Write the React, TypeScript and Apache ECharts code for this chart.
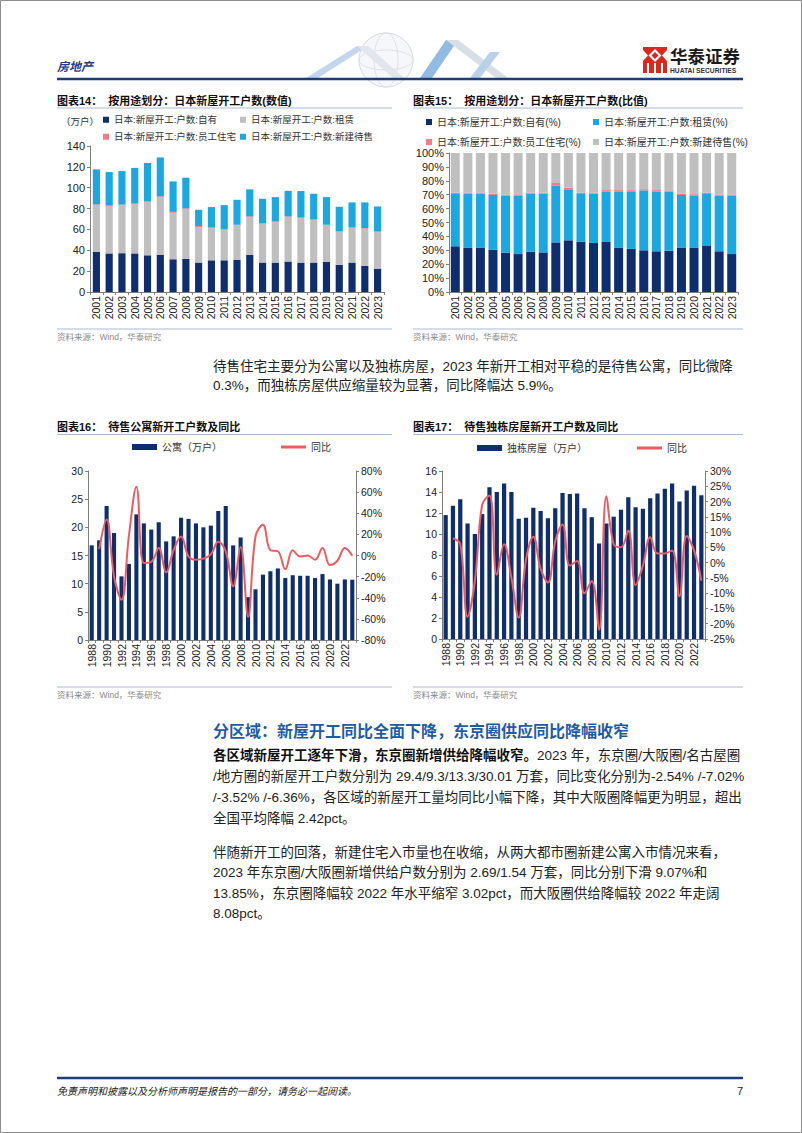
import React, { useEffect, useRef } from 'react';
import * as echarts from 'echarts';

// ---------- data ----------
const years01 = ['2001','2002','2003','2004','2005','2006','2007','2008','2009','2010','2011','2012','2013','2014','2015','2016','2017','2018','2019','2020','2021','2022','2023'];
// Chart 14 (万户)
const own14 = [38.5,37.0,37.2,37.0,35.2,35.8,31.4,31.7,28.2,30.4,30.4,31.0,35.6,28.2,28.2,29.2,28.2,28.2,28.8,26.0,28.2,25.0,22.4];
const rent14 = [44.8,45.0,45.8,47.0,50.8,55.2,44.6,47.8,33.8,30.6,29.2,32.8,36.2,37.2,38.8,42.6,42.8,40.8,35.0,31.7,33.3,35.6,35.0];
const emp14 = [0.8,0.8,0.8,0.8,0.8,0.8,0.8,0.8,1.3,1.0,0.7,0.7,0.8,0.7,0.7,0.7,0.7,0.7,0.7,0.7,0.7,0.7,0.7];
const sale14 = [33.5,32.2,32.2,34.2,36.9,37.2,29.2,29.3,15.5,19.4,23.0,23.9,25.8,23.3,23.3,24.5,25.1,24.5,26.5,23.3,23.7,24.6,23.9];
// Chart 15 (%)
const own15 = [32.9,31.7,31.7,30.5,28.3,27.3,29.0,28.5,35.7,37.2,36.2,35.3,36.0,31.7,31.0,30.0,29.3,29.7,31.7,31.7,33.1,29.3,27.3];
const rent15 = [37.6,39.0,39.0,39.3,41.0,42.2,41.7,42.2,41.0,36.7,34.3,35.4,36.4,40.7,41.4,43.1,43.1,42.5,38.1,37.8,37.4,40.0,42.0];
const emp15 = [0.9,0.9,0.9,0.9,0.8,0.8,0.9,0.9,1.7,1.2,0.9,0.9,0.9,0.9,0.9,0.9,0.9,0.9,0.9,0.9,0.9,0.9,0.9];
const sale15 = [28.6,28.4,28.4,29.3,29.9,29.7,28.4,28.4,21.6,24.9,28.6,28.4,26.7,26.7,26.7,26.0,26.7,26.9,29.3,29.6,28.6,29.8,29.8];
// Charts 16 / 17
const years88 = ['1988','1989','1990','1991','1992','1993','1994','1995','1996','1997','1998','1999','2000','2001','2002','2003','2004','2005','2006','2007','2008','2009','2010','2011','2012','2013','2014','2015','2016','2017','2018','2019','2020','2021','2022','2023'];
const apt = [16.8,17.7,23.8,19.0,11.3,13.5,22.3,20.7,19.6,20.9,17.5,18.4,21.7,21.5,20.7,20.0,20.3,22.9,23.8,16.8,18.2,7.6,9.0,11.6,12.2,12.7,11.0,11.5,11.4,11.4,11.0,11.7,10.75,10.0,10.75,10.7];
const aptYoy = [null,6,34,-20,-42,19,65,-7,-6,7,-16,5,18,-1,-4,-3,1,13,4,-29,8,-58,18,29,5,4,-13,5,-1,0,-4,7,-9,-5,7,-0.3];
const house = [11.8,12.7,13.3,11.0,10.0,11.9,14.45,14.0,14.8,14.0,11.45,11.55,12.5,12.2,11.5,12.45,13.9,13.8,13.85,12.45,11.6,9.1,11.0,11.65,12.3,13.5,12.55,12.4,13.4,13.85,14.3,14.8,13.1,14.15,14.6,13.7];
const houseYoy = [null,8,6,-17.7,-6,19,22,-4,6,-5,-18,1,8.5,-2,-6.5,7,12.5,-1,0.5,-10,-6,-22,21.7,6,5,10.5,-7.3,-1,8.3,3,3,4,-11,8.7,4,-5.9];

const S14 = ['日本:新屋开工:户数:自有','日本:新屋开工:户数:租赁','日本:新屋开工:户数:员工住宅','日本:新屋开工:户数:新建待售'];
const S15 = ['日本:新屋开工:户数:自有(%)','日本:新屋开工:户数:租赁(%)','日本:新屋开工:户数:员工住宅(%)','日本:新屋开工:户数:新建待售(%)'];

// ---------- styles ----------
const FONT = '"Liberation Sans", Arial, "Noto Sans CJK SC", sans-serif';
const NAVY = '#0F2E6E';
const LBLUE = '#19A8E2';
const GRAY = '#BFBFBF';
const PINK = '#F17C88';
const RED = '#F15A5F';
const AX = '#7F7F7F';
const TITLE_LINE = '#A9BCD4';
const BODY = 13.5;

const txt = (text: string, x: number, y: number, o: any = {}) => ({
  type: 'text', x, y, silent: true, z: 10,
  style: {
    text, fill: o.fill || '#222', fontSize: o.size || BODY, fontFamily: FONT,
    fontWeight: o.weight || 'normal', fontStyle: o.italic ? 'italic' : 'normal',
    textAlign: o.align || 'left', textVerticalAlign: 'middle', rich: o.rich,
  },
});
const ln = (x1: number, y1: number, x2: number, y2: number, stroke: string, w = 1) => ({
  type: 'line', silent: true, shape: { x1, y1, x2, y2 }, style: { stroke, lineWidth: w },
});
const poly = (points: number[][], fill: string) => ({ type: 'polygon', silent: true, shape: { points }, style: { fill } });

const legendItem = (name: string, left: number, y: number, o: any = {}) => ({
  data: [name], left, top: y - 6, padding: 0, itemGap: 0, selectedMode: false,
  icon: 'rect', itemWidth: o.w || 6, itemHeight: o.h || 6,
  textStyle: { fontSize: o.size || 9.5, color: '#333', fontFamily: FONT },
});

const catAxis = (gridIndex: number, data: string[], interval: number, size: number) => ({
  type: 'category', gridIndex, data,
  axisLine: { lineStyle: { color: AX }, onZero: false },
  axisTick: { show: true, interval: 0, length: 3, lineStyle: { color: AX } },
  axisLabel: { rotate: 90, interval, fontSize: size, color: '#222', fontFamily: FONT, margin: 4 },
  splitLine: { show: false },
});
const valAxis = (gridIndex: number, min: number, max: number, interval: number, pos: string, fmt?: string, size = 11) => ({
  type: 'value', gridIndex, min, max, interval, position: pos,
  axisLine: { show: true, lineStyle: { color: AX } },
  axisTick: { show: true, length: 3, lineStyle: { color: AX } },
  axisLabel: { fontSize: size, color: '#222', fontFamily: FONT, margin: 5, formatter: fmt },
  splitLine: { show: false },
});

const bodyRich = { b: { fontWeight: 'bold', fontSize: BODY, fontFamily: FONT, fill: '#111' } };

function buildOption() {
  const graphic: any[] = [
    // page border
    { type: 'rect', silent: true, shape: { x: 0.5, y: 0.5, width: 801, height: 1132 }, style: { fill: 'none', stroke: '#8E8E8E', lineWidth: 1 } },
    // header watermark
    { type: 'circle', silent: true, shape: { cx: 386, cy: 60, r: 27 }, style: { fill: 'rgba(225,232,240,0.35)', stroke: '#D3D9E0', lineWidth: 1 } },
    { type: 'ellipse', silent: true, shape: { cx: 386, cy: 60, rx: 12, ry: 27 }, style: { fill: 'none', stroke: '#DDE2E8', lineWidth: 1 } },
    { type: 'ellipse', silent: true, shape: { cx: 386, cy: 60, rx: 27, ry: 10 }, style: { fill: 'none', stroke: '#DDE2E8', lineWidth: 1 } },
    poly([[306, 78], [318, 78], [368, 46], [357, 46]], '#C4D6EA'),
    poly([[357, 46], [368, 46], [404, 78], [393, 78]], '#E1E6EC'),
    poly([[420, 78], [432, 78], [458, 40], [446, 40]], '#92BBE3'),
    poly([[446, 40], [458, 40], [508, 78], [496, 78]], '#D7DEE6'),
    poly([[470, 78], [480, 78], [500, 52], [490, 52]], '#B9D2EC'),
    // header
    txt('房地产', 57, 67, { size: 12, weight: 'bold', italic: true, fill: '#1F3F8A' }),
    ln(57, 79, 743, 79, '#1D3C78', 2.5),
    // logo
    { type: 'rect', silent: true, shape: { x: 643, y: 47, width: 24, height: 26 }, style: { fill: '#D9281E' } },
    poly([[655, 49], [661.5, 55.5], [655, 62], [648.5, 55.5]], '#FFFFFF'),
    poly([[655, 52], [658.5, 55.5], [655, 59], [651.5, 55.5]], '#D9281E'),
    poly([[643, 50], [648, 55.5], [643, 61]], '#FFFFFF'),
    poly([[667, 50], [662, 55.5], [667, 61]], '#FFFFFF'),
    { type: 'rect', silent: true, shape: { x: 647, y: 63, width: 2, height: 10 }, style: { fill: '#FFFFFF' } },
    { type: 'rect', silent: true, shape: { x: 654, y: 63, width: 2, height: 10 }, style: { fill: '#FFFFFF' } },
    { type: 'rect', silent: true, shape: { x: 661, y: 63, width: 2, height: 10 }, style: { fill: '#FFFFFF' } },
    txt('华泰证券', 670, 57, { size: 17.5, weight: 'bold', fill: '#1A1A1A' }),
    txt('HUATAI SECURITIES', 670, 70.5, { size: 6.7, weight: 'bold', fill: '#333' }),

    // chart titles
    txt('图表14：  按用途划分：日本新屋开工户数(数值)', 57, 101, { size: 11, weight: 'bold', fill: '#111' }),
    ln(57, 108, 392, 108, TITLE_LINE),
    txt('图表15：  按用途划分：日本新屋开工户数(比值)', 413, 101, { size: 11, weight: 'bold', fill: '#111' }),
    ln(413, 108, 743, 108, TITLE_LINE),
    txt('（万户）', 61, 121, { size: 9.5, fill: '#333' }),
    ln(57, 329, 392, 329, TITLE_LINE),
    ln(413, 329, 743, 329, TITLE_LINE),
    txt('资料来源：Wind，华泰研究', 57, 337, { size: 8.5, fill: '#8A8A8A' }),
    txt('资料来源：Wind，华泰研究', 413, 337, { size: 8.5, fill: '#8A8A8A' }),

    // paragraph 1
    txt('待售住宅主要分为公寓以及独栋房屋，2023 年新开工相对平稳的是待售公寓，同比微降', 213, 366),
    txt('0.3%，而独栋房屋供应缩量较为显著，同比降幅达 5.9%。', 213, 385),

    txt('图表16：  待售公寓新开工户数及同比', 57, 427, { size: 11, weight: 'bold', fill: '#111' }),
    ln(57, 434.5, 392, 434.5, TITLE_LINE),
    txt('图表17：  待售独栋房屋新开工户数及同比', 413, 427, { size: 11, weight: 'bold', fill: '#111' }),
    ln(413, 434.5, 743, 434.5, TITLE_LINE),
    ln(57, 687, 392, 687, TITLE_LINE),
    ln(413, 687, 743, 687, TITLE_LINE),
    txt('资料来源：Wind，华泰研究', 57, 695, { size: 8.5, fill: '#8A8A8A' }),
    txt('资料来源：Wind，华泰研究', 413, 695, { size: 8.5, fill: '#8A8A8A' }),

    // section heading
    txt('分区域：新屋开工同比全面下降，东京圈供应同比降幅收窄', 213, 731, { size: 16, weight: 'bold', fill: '#1F5CA6' }),
    txt('{b|各区域新屋开工逐年下滑，东京圈新增供给降幅收窄。}2023 年，东京圈/大阪圈/名古屋圈', 213, 755, { rich: bodyRich }),
    txt('/地方圈的新屋开工户数分别为 29.4/9.3/13.3/30.01 万套，同比变化分别为-2.54% /-7.02%', 213, 776),
    txt('/-3.52% /-6.36%，各区域的新屋开工量均同比小幅下降，其中大阪圈降幅更为明显，超出', 213, 797),
    txt('全国平均降幅 2.42pct。', 213, 818),
    txt('伴随新开工的回落，新建住宅入市量也在收缩，从两大都市圈新建公寓入市情况来看，', 213, 852),
    txt('2023 年东京圈/大阪圈新增供给户数分别为 2.69/1.54 万套，同比分别下滑 9.07%和', 213, 872.5),
    txt('13.85%，东京圈降幅较 2022 年水平缩窄 3.02pct，而大阪圈供给降幅较 2022 年走阔', 213, 893),
    txt('8.08pct。', 213, 913.5),

    // footer
    ln(57, 1078, 743, 1078, '#1D3C78', 2.5),
    txt('免责声明和披露以及分析师声明是报告的一部分，请务必一起阅读。', 57, 1091, { size: 10, italic: true, fill: '#222' }),
    txt('7', 743, 1091, { size: 11, fill: '#222', align: 'right' }),
  ];

  const grid = [
    { left: 90, top: 146, width: 294, height: 146 },
    { left: 449, top: 153, width: 289, height: 139 },
    { left: 88, top: 471, width: 268, height: 169 },
    { left: 442, top: 471, width: 263, height: 168 },
  ].map((g) => ({ ...g, containLabel: false, outerBoundsMode: 'none' }));

  const xAxis = [
    catAxis(0, years01, 0, 10.5),
    catAxis(1, years01, 0, 10.5),
    catAxis(2, years88, 1, 10.5),
    catAxis(3, years88, 1, 10.5),
  ];
  const yAxis = [
    valAxis(0, 0, 140, 20, 'left'),
    valAxis(1, 0, 100, 10, 'left', '{value}%'),
    valAxis(2, 0, 30, 5, 'left', undefined, 10.5),
    valAxis(2, -80, 80, 20, 'right', '{value}%', 10.5),
    valAxis(3, 0, 16, 2, 'left', undefined, 10.5),
    valAxis(3, -25, 30, 5, 'right', '{value}%', 10.5),
  ];

  const bar = (name: string, data: number[], color: string, xi: number, yi: number, stack?: string, width: any = '56%') => ({
    type: 'bar', name, data, stack, xAxisIndex: xi, yAxisIndex: yi, barWidth: width,
    itemStyle: { color }, emphasis: { disabled: true },
  });
  const line = (name: string, data: any[], xi: number, yi: number) => ({
    type: 'line', name, data, xAxisIndex: xi, yAxisIndex: yi, smooth: 0.4, symbol: 'none',
    connectNulls: false, lineStyle: { color: RED, width: 2 }, itemStyle: { color: RED }, z: 5,
    emphasis: { disabled: true },
  });

  const series = [
    bar(S14[0], own14, NAVY, 0, 0, 'a'),
    bar(S14[1], rent14, GRAY, 0, 0, 'a'),
    bar(S14[2], emp14, PINK, 0, 0, 'a'),
    bar(S14[3], sale14, LBLUE, 0, 0, 'a'),
    bar(S15[0], own15, NAVY, 1, 1, 'b', 9),
    bar(S15[1], rent15, LBLUE, 1, 1, 'b', 9),
    bar(S15[2], emp15, PINK, 1, 1, 'b', 9),
    bar(S15[3], sale15, GRAY, 1, 1, 'b', 9),
    bar('公寓（万户）', apt, NAVY, 2, 2, undefined, '55%'),
    line('同比', aptYoy, 2, 3),
    bar('独栋房屋（万户）', house, NAVY, 3, 4, undefined, '58%'),
    line('同比', houseYoy, 3, 5),
  ];

  const legend = [
    legendItem(S14[0], 103, 121),
    legendItem(S14[1], 240, 121),
    legendItem(S14[2], 103, 138),
    legendItem(S14[3], 240, 138),
    legendItem(S15[0], 426, 123, { size: 10 }),
    legendItem(S15[1], 593, 123, { size: 10 }),
    legendItem(S15[2], 426, 143, { size: 10 }),
    legendItem(S15[3], 593, 143, { size: 10 }),
    legendItem('公寓（万户）', 132, 448, { w: 25, h: 6, size: 10 }),
    legendItem('同比', 281, 448, { w: 25, h: 3, size: 10 }),
    legendItem('独栋房屋（万户）', 477, 449, { w: 25, h: 6, size: 10 }),
    legendItem('同比', 637, 449, { w: 25, h: 3, size: 10 }),
  ];

  return {
    animation: false,
    backgroundColor: '#FFFFFF',
    textStyle: { fontFamily: FONT },
    grid, xAxis, yAxis, series, legend, graphic,
  };
}

export default function App() {
  const ref = useRef<HTMLDivElement>(null);
  useEffect(() => {
    document.body.style.margin = '0';
    if (!ref.current) return;
    const chart = echarts.init(ref.current, undefined, { renderer: 'svg' });
    chart.setOption(buildOption() as any);
    return () => chart.dispose();
  }, []);
  return <div ref={ref} style={{ width: 802, height: 1133, position: 'absolute', left: 0, top: 0 }} />;
}
